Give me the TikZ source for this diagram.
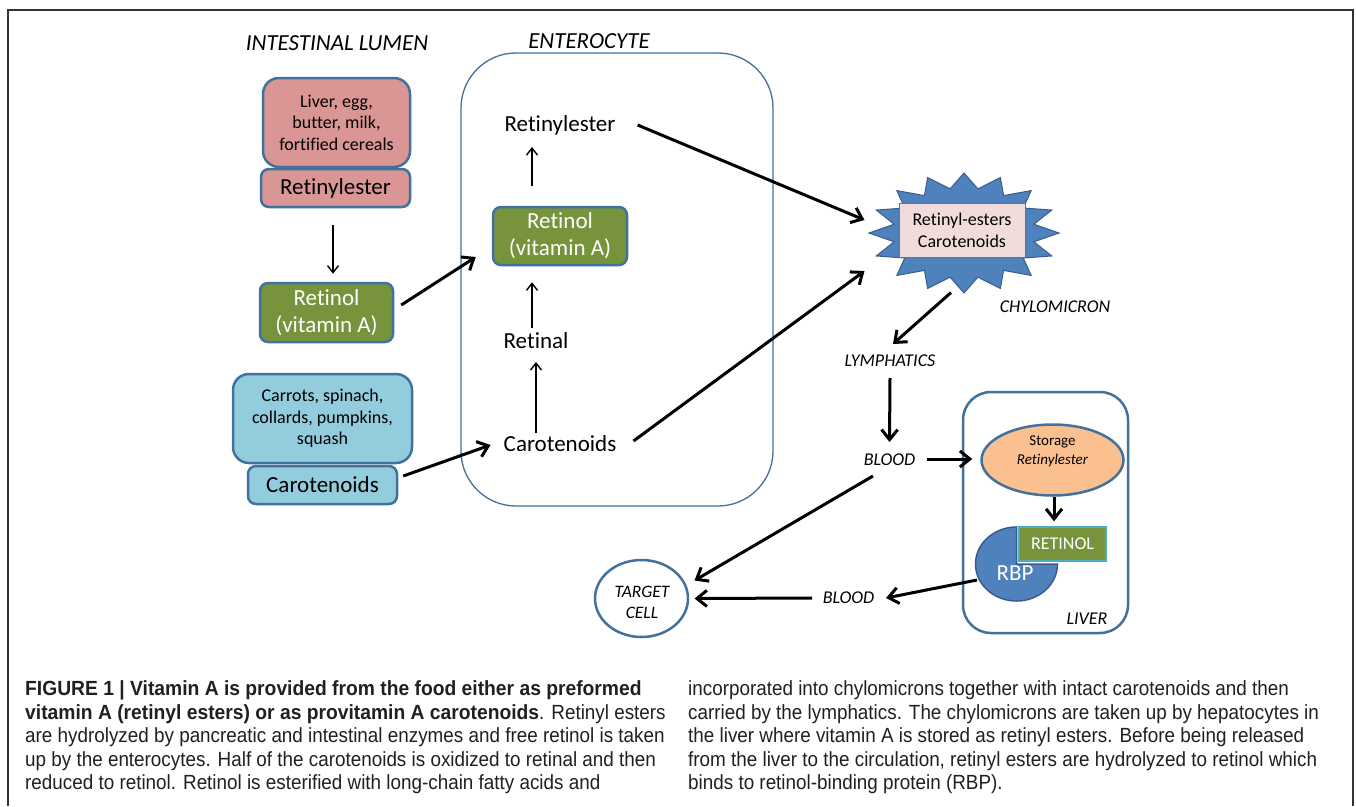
\documentclass[tikz,border=0pt]{standalone}
\usepackage{fontspec}
\setmainfont{Carlito}[Ligatures=NoCommon]
\newfontfamily\capfont{Liberation Sans}[FakeStretch=0.92, BoldFont={Liberation Sans Bold}, BoldFeatures={FakeStretch=0.94}]
\usetikzlibrary{arrows.meta,calc,shapes.geometric}
\definecolor{bord}{HTML}{41719C}
\definecolor{pinkf}{HTML}{D99694}
\definecolor{greenf}{HTML}{77933C}
\definecolor{bluef}{HTML}{93CDDD}
\definecolor{starf}{HTML}{4F81BD}
\definecolor{stard}{HTML}{385D8A}
\definecolor{pinkl}{HTML}{F2DCDB}
\definecolor{redb}{HTML}{C0504D}
\definecolor{orangef}{HTML}{FAC090}
\definecolor{cyanb}{HTML}{4BACC6}
\definecolor{capc}{HTML}{231F20}
\newcommand{\fsz}[2]{\fontsize{#1pt}{#2pt}\selectfont}
\begin{document}
\begin{tikzpicture}[x=1pt,y=-1pt,
  box/.style={draw=bord, line width=2.5pt, align=center, inner sep=0pt},
  txt/.style={font=\fsz{23}{27}, inner sep=0pt},
  lab/.style={font=\fsz{18}{21}\itshape, inner sep=0pt, align=center},
  tarr/.style={line width=3pt, -{Straight Barb[length=10pt,width=16pt]}},
  tharr/.style={line width=1.4pt, -{Straight Barb[length=7pt,width=11pt]}},
  captxt/.style={font=\capfont\fsz{20.5}{23.5}, anchor=base west, inner sep=0pt, text=capc}]
\useasboundingbox (0,0) rectangle (1356,806);
\fill[white] (0,0) rectangle (1356,806);
\draw[line width=1.5pt, black!80] (8,806) -- (8,10) -- (1353,10) -- (1353,806);

% headings
\node[font=\fsz{23}{27}\itshape, inner sep=0pt] (lumen) at (337,43) {INTESTINAL LUMEN};
\node[font=\fsz{23}{27}\itshape, inner sep=0pt] (entl) at (589,41) {ENTEROCYTE};

% intestinal lumen
\node[box, fill=pinkf, rounded corners=16pt, minimum width=147pt, minimum height=89pt, font=\fsz{18}{21.5}] (pf) at (336.5,122.5) {Liver, egg,\\butter, milk,\\fortified cereals};
\node[box, fill=pinkf, rounded corners=8pt, minimum width=149pt, minimum height=38pt, font=\fsz{23}{27}] (pe) at (335.5,188) {Retinylester};
\node[box, fill=greenf, text=white, rounded corners=8pt, minimum width=133pt, minimum height=59pt, font=\fsz{23}{27}] (gl) at (326.5,312.5) {Retinol\\(vitamin A)};
\node[box, fill=bluef, rounded corners=16pt, minimum width=179pt, minimum height=89pt, font=\fsz{18}{21.5}] (bf) at (322.5,418.5) {Carrots, spinach,\\collards, pumpkins,\\squash};
\node[box, fill=bluef, rounded corners=8pt, minimum width=149pt, minimum height=38pt, font=\fsz{23}{27}] (bc) at (322.5,485) {Carotenoids};

% enterocyte
\node[draw=bord, line width=1.3pt, rounded corners=55pt, minimum width=312pt, minimum height=453pt, inner sep=0pt] (ent) at (617,279.5) {};
\node[txt] (re) at (560,125) {Retinylester};
\node[box, fill=greenf, text=white, rounded corners=8pt, minimum width=134pt, minimum height=58pt, font=\fsz{23}{27}] (gi) at (560,236) {Retinol\\(vitamin A)};
\node[txt] (rl) at (536,341) {Retinal};
\node[txt] (ca) at (560,444) {Carotenoids};

% chylomicron
\draw[fill=starf, draw=stard, line width=1pt] plot[samples at={0,...,31}, variable=\i] ({964+95*(1-0.25*mod(\i,2))*cos(90+\i*11.25)}, {233-60*(1-0.25*mod(\i,2))*sin(90+\i*11.25)}) -- cycle;
\node[draw=redb, fill=pinkl, line width=1pt, minimum width=126pt, minimum height=54pt, font=\fsz{18}{22}, align=center, inner sep=0pt] (cb) at (962,230) {Retinyl-esters\\Carotenoids};
\node[lab] (chl) at (1055,307) {CHYLOMICRON};
\node[lab] (ly) at (890,361) {LYMPHATICS};
\node[lab] (bl1) at (889.5,460) {BLOOD};
\node[lab] (bl2) at (848.5,598) {BLOOD};

% liver
\node[box, fill=white, rounded corners=28pt, minimum width=165pt, minimum height=241pt] (liver) at (1045.5,512.5) {};
\node[lab] (livl) at (1087,619) {LIVER};
\node[draw=bord, line width=2.5pt, fill=orangef, ellipse, minimum width=142pt, minimum height=71pt, inner sep=0pt] (st) at (1052.5,460) {};
\node[font=\fsz{15}{19}, align=center, inner sep=0pt] (stt) at (1052.5,451.5) {Storage\\\textit{Retinylester}};
\filldraw[fill=starf, draw=stard, line width=1.5pt] (1016.5,564) -- ++(41,0) arc[start angle=0, end angle=-270, x radius=41pt, y radius=37pt] -- cycle;
\node[font=\fsz{23}{27}, text=white, inner sep=0pt] (rbp) at (1015,573) {RBP};
\node[draw=cyanb, fill=greenf, line width=1.5pt, minimum width=87pt, minimum height=34pt, text=white, font=\fsz{18}{21}, inner sep=0pt] (ret) at (1062.5,544) {RETINOL};

% target cell
\node[draw=bord, line width=2.5pt, ellipse, minimum width=93pt, minimum height=77pt, inner sep=0pt] (tc) at (641.5,598.5) {};
\node[font=\fsz{17.5}{21}\itshape, align=center, inner sep=0pt] (tct) at (642,602) {TARGET\\CELL};

% thin arrows
\draw[tharr] ([xshift=-24pt,yshift=11pt]ca.center) -- ([yshift=-21pt]rl.center);
\draw[tharr] ([xshift=-4pt,yshift=13pt]rl.center) -- ([xshift=-28pt,yshift=-16pt]gi.south);
\draw[tharr] ([xshift=-28pt,yshift=20pt]gi.north) -- ([xshift=-28pt,yshift=-22pt]re.center);
\draw[tharr] ([xshift=-2.5pt,yshift=-17pt]pe.south) -- ([xshift=6.5pt,yshift=8pt]gl.north);

% thick arrows
\draw[tarr] ([xshift=7pt,yshift=7.5pt]gl.east) -- ([xshift=-16pt,yshift=-21pt]gi.west);
\draw[tarr] ([xshift=5pt,yshift=9pt]bc.east) -- ([xshift=-13pt,yshift=-1pt]ca.west);
\draw[tarr] ([xshift=22pt]re.east) -- ([xshift=-34pt,yshift=10pt]cb.west);
\draw[tarr] ([xshift=17pt,yshift=3pt]ca.east) -- ([xshift=-34pt,yshift=-41pt]cb.west);
\draw[tarr] ([xshift=-11pt,yshift=-35pt]cb.south) -- ([xshift=3pt,yshift=17pt]ly.center);
\draw[tarr] ([yshift=-17pt]ly.center) -- ([yshift=18pt]bl1.center);
\draw[tarr] ([xshift=37.5pt,yshift=1pt]bl1.center) -- ([xshift=-8pt,yshift=1pt]st.west);
\draw[tarr] ([xshift=-16.5pt,yshift=-16pt]bl1.center) -- ([xshift=53pt,yshift=18pt]tc.center);
\draw[tarr] ([xshift=1.5pt]st.south) -- ([xshift=-8.5pt,yshift=5pt]ret.north);
\draw[tarr] ([xshift=-38pt,yshift=-7pt]rbp.center) -- ([xshift=37.5pt]bl2.center);
\draw[tarr] ([xshift=-36.5pt]bl2.center) -- ([xshift=53pt]tc.center);

% caption
\node[captxt] (cl1) at (25,695.5) {\textbf{FIGURE 1 | Vitamin A is provided from the food either as preformed}};
\node[captxt] (cl2) at (25,719) {\textbf{vitamin A (retinyl esters) or as provitamin A carotenoids}. Retinyl esters};
\node[captxt] (cl3) at (25,742.5) {are hydrolyzed by pancreatic and intestinal enzymes and free retinol is taken};
\node[captxt] (cl4) at (25,766) {up by the enterocytes. Half of the carotenoids is oxidized to retinal and then};
\node[captxt] (cl5) at (25,789.5) {reduced to retinol. Retinol is esterified with long-chain fatty acids and};
\node[captxt] (cr1) at (688,695.5) {incorporated into chylomicrons together with intact carotenoids and then};
\node[captxt] (cr2) at (688,719) {carried by the lymphatics. The chylomicrons are taken up by hepatocytes in};
\node[captxt] (cr3) at (688,742.5) {the liver where vitamin A is stored as retinyl esters. Before being released};
\node[captxt] (cr4) at (688,766) {from the liver to the circulation, retinyl esters are hydrolyzed to retinol which};
\node[captxt] (cr5) at (688,789.5) {binds to retinol-binding protein (RBP).};
\end{tikzpicture}
\end{document}
